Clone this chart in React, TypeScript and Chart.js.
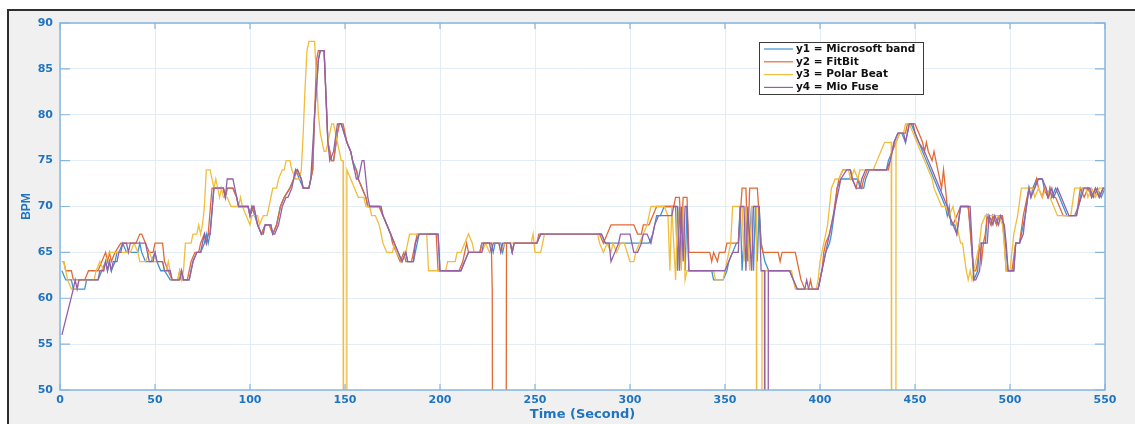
import React, { useEffect, useRef } from "react";
import { Chart, registerables } from "chart.js";

Chart.register(...registerables);

// ---- data: [time (s), BPM] breakpoints ----
const seriesLabels = ["y1 = Microsoft band", "y2 = FitBit", "y3 = Polar Beat", "y4 = Mio Fuse"];
const seriesColors = ["#3d93d2", "#e26a35", "#f1bd3c", "#9460a8"];

const microsoftBand: [number, number][] = [
  [1,63],[3,62],[6,62],[7,61],[13,61],[14,62],[20,62],[22,63],[24,64],[25,63],[26,64],[27,63],[29,64],[30,65],[31,65],[33,66],[35,65],[41,65],[42,66],[43,65],[45,64],[48,64],[50,65],[51,64],[53,63],[55,63],[58,62],[63,62],[64,63],[65,62],[68,62],[70,64],[72,65],[74,65],[76,66],[77,67],[78,66],[79,67],[81,72],[86,72],[87,71],[88,72],[91,72],[93,71],[94,70],[99,70],[100,69],[101,70],[104,68],[106,67],[108,68],[111,68],[112,67],[114,68],[116,70],[118,71],[121,72],[123,73],[124,74],[126,73],[128,72],[131,72],[133,74],[134,80],[136,86],[137,87],[139,87],[141,77],[143,75],[144,75],[146,78],[147,79],[148,79],[151,77],[153,76],[154,75],[156,74],[157,73],[159,72],[161,71],[162,70],[168,70],[170,69],[172,68],[174,67],[176,66],[178,65],[180,64],[182,65],[183,64],[186,64],[188,66],[189,67],[199,67],[200,63],[211,63],[213,64],[215,65],[221,65],[222,66],[227,66],[228,65],[229,66],[232,66],[233,65],[234,66],[237,66],[238,65],[239,66],[251,66],[253,67],[285,67],[287,66],[310,66],[312,67],[314,69],[316,69],[318,70],[324,70],[325,63],[326,70],[327,64],[328,70],[329,63],[330,70],[331,63],[343,63],[344,62],[349,62],[351,63],[352,64],[354,65],[356,66],[357,66],[358,70],[359,63],[361,70],[362,64],[364,70],[365,63],[366,70],[367,64],[368,70],[369,66],[371,64],[373,63],[384,63],[386,62],[388,61],[399,61],[400,62],[401,63],[403,65],[405,66],[406,67],[408,70],[409,72],[411,73],[420,73],[421,72],[423,72],[424,73],[426,74],[435,74],[436,75],[438,76],[439,77],[441,78],[443,78],[445,77],[446,78],[447,79],[448,79],[450,78],[452,77],[454,76],[456,75],[458,74],[460,73],[462,72],[464,71],[466,70],[467,69],[468,70],[469,68],[471,68],[472,67],[474,70],[478,70],[479,68],[481,62],[483,63],[484,66],[487,66],[488,69],[490,68],[491,69],[493,68],[494,69],[496,69],[497,67],[499,63],[502,63],[503,66],[505,66],[506,67],[508,69],[510,72],[511,71],[512,72],[514,73],[517,73],[518,72],[520,71],[521,72],[522,71],[524,72],[526,71],[528,70],[530,69],[534,69],[536,70],[538,72],[542,72],[544,71],[546,72],[548,71],[550,72]
];

const fitBit: [number, number][] = [
  [1,64],[2,64],[3,63],[6,63],[7,62],[13,62],[15,63],[20,63],[22,64],[24,65],[25,64],[26,65],[27,64],[29,65],[32,66],[40,66],[42,67],[43,67],[45,66],[47,65],[49,65],[50,66],[54,66],[55,64],[57,63],[59,62],[62,62],[63,63],[64,62],[67,62],[69,64],[71,65],[73,65],[74,66],[76,67],[77,66],[78,67],[80,72],[86,72],[87,71],[88,72],[91,72],[93,71],[94,70],[99,70],[100,69],[102,70],[104,68],[106,67],[108,68],[110,68],[112,67],[114,68],[116,70],[118,71],[121,72],[123,73],[125,74],[127,73],[128,72],[131,72],[133,74],[134,80],[135,86],[136,87],[139,87],[141,77],[143,75],[144,75],[146,78],[147,79],[149,79],[151,77],[153,76],[154,75],[155,74],[156,74],[157,73],[159,72],[161,71],[162,70],[168,70],[170,69],[172,68],[174,67],[175,66],[177,65],[179,64],[181,65],[182,64],[185,64],[187,66],[188,67],[198,67],[199,63],[210,63],[212,64],[213,65],[214,66],[215,65],[221,65],[222,66],[227,66],[227.5,61],[228,0],[234.5,0],[235,66],[237,66],[238,65],[239,66],[251,66],[252,67],[284,67],[286,66],[288,67],[290,68],[302,68],[304,67],[306,67],[307,68],[310,68],[312,69],[314,70],[323,70],[324,71],[326,71],[327,67],[328,71],[330,71],[331,65],[342,65],[343,64],[344,65],[346,64],[347,65],[350,65],[351,66],[357,66],[359,72],[361,72],[362,66],[363,72],[367,72],[369,66],[370,65],[378,65],[379,64],[380,65],[387,65],[388,64],[389,63],[390,62],[392,61],[394,61],[395,62],[396,61],[399,61],[400,62],[401,63],[402,65],[403,66],[405,67],[407,69],[409,72],[410,73],[412,74],[416,74],[417,73],[419,72],[420,73],[422,72],[423,73],[425,74],[436,74],[438,76],[440,77],[442,78],[445,78],[446,79],[450,79],[452,78],[454,77],[455,76],[456,77],[457,76],[459,75],[460,76],[462,74],[464,72],[465,74],[466,72],[467,70],[468,69],[470,68],[472,69],[474,70],[478,70],[480,65],[481,63],[482,63],[483,64],[484,66],[485,64],[486,66],[487,67],[488,69],[490,68],[491,69],[493,68],[494,69],[496,69],[497,66],[498,63],[501,63],[503,66],[505,66],[507,69],[509,71],[510,72],[513,72],[514,73],[515,72],[517,71],[518,72],[520,71],[521,72],[522,71],[524,71],[526,70],[528,69],[535,69],[537,72],[539,71],[541,72],[543,71],[545,72],[547,71],[549,72],[550,72]
];

const polarBeat: [number, number][] = [
  [1,64],[2,64],[3,63],[4,62],[6,61],[9,61],[10,62],[18,62],[19,63],[21,64],[23,63],[24,64],[26,65],[37,65],[39,66],[41,65],[42,64],[45,64],[47,65],[49,64],[54,64],[55,63],[56,63],[57,64],[58,63],[59,62],[62,62],[63,63],[64,62],[65,63],[66,66],[69,66],[70,67],[72,67],[73,68],[74,67],[75,68],[76,70],[77,74],[79,74],[81,72],[82,73],[83,72],[84,71],[85,72],[86,71],[88,71],[90,70],[94,70],[95,71],[96,70],[98,69],[100,68],[101,69],[104,69],[105,68],[107,69],[109,69],[110,70],[112,72],[114,72],[115,73],[117,74],[118,74],[119,75],[121,75],[122,74],[124,73],[126,73],[127,74],[128,78],[129,83],[130,87],[131,88],[134,88],[135,84],[136,80],[137,78],[139,76],[140,76],[141,77],[143,79],[144,79],[146,77],[147,76],[148,75],[149,75],[149.2,0],[150.8,0],[151,74],[153,73],[155,72],[157,71],[160,71],[161,70],[163,70],[164,69],[166,69],[168,68],[170,66],[172,65],[175,65],[176,66],[177,65],[180,64],[182,65],[184,67],[193,67],[194,63],[203,63],[204,64],[208,64],[209,65],[211,65],[213,66],[215,67],[217,66],[218,65],[222,65],[224,66],[226,65],[228,66],[231,66],[232,65],[234,66],[248,66],[249,67],[250,65],[253,65],[255,67],[283,67],[284,66],[286,65],[288,66],[290,65],[291,66],[293,65],[295,66],[297,66],[300,64],[302,64],[303,65],[305,66],[307,67],[309,68],[311,70],[318,70],[320,69],[321,63],[322,70],[324,62],[325,70],[327,63],[328,70],[329,62],[330,63],[344,63],[345,62],[349,62],[350,63],[352,65],[353,66],[354,70],[359,70],[360,64],[361,70],[363,63],[364,70],[366.5,70],[366.7,0],[369.3,0],[369.5,63],[385,63],[386,62],[387,61],[398,61],[399,62],[400,64],[401,65],[403,67],[404,68],[405,70],[406,72],[408,73],[410,73],[412,74],[415,74],[416,73],[418,74],[420,73],[421,74],[428,74],[430,75],[432,76],[434,77],[437.5,77],[437.7,0],[439.9,0],[440,77],[442,78],[444,78],[445,79],[447,79],[449,78],[451,77],[453,76],[455,75],[457,74],[459,73],[460,72],[462,71],[464,70],[466,70],[468,69],[470,70],[472,68],[474,66],[475,66],[477,63],[478,62],[479,63],[480,62],[482,64],[484,66],[485,68],[487,69],[494,69],[496,68],[497,66],[498,63],[500,63],[502,67],[504,69],[506,72],[512,72],[513,71],[515,72],[517,71],[519,72],[521,71],[523,70],[525,69],[532,69],[534,72],[540,72],[541,71],[543,72],[545,71],[547,72],[550,72]
];

const mioFuse: [number, number][] = [
  [1,56],[7,61],[8,62],[9,61],[10,62],[20,62],[21,63],[23,63],[24,64],[25,63],[26,64],[27,63],[28,64],[30,64],[31,65],[32,65],[33,66],[35,66],[36,65],[37,66],[45,66],[46,65],[47,64],[49,64],[50,65],[51,64],[54,64],[55,63],[58,63],[59,62],[63,62],[64,63],[65,62],[68,62],[70,64],[72,65],[74,65],[75,66],[76,67],[77,66],[78,67],[79,67],[81,72],[86,72],[87,71],[88,73],[91,73],[93,71],[94,70],[99,70],[100,69],[101,70],[102,70],[104,68],[106,67],[107,67],[108,68],[111,68],[112,67],[113,67],[115,68],[117,70],[119,71],[120,71],[122,72],[124,74],[125,74],[127,73],[128,72],[131,72],[132,73],[134,80],[136,86],[137,87],[139,87],[141,77],[142,75],[144,76],[146,79],[148,79],[151,77],[153,76],[155,74],[156,73],[157,73],[159,75],[160,75],[162,71],[163,70],[169,70],[170,69],[172,68],[174,67],[176,66],[178,65],[180,64],[182,65],[183,64],[186,64],[187,66],[189,67],[199,67],[200,63],[211,63],[213,64],[215,65],[222,65],[223,66],[226,66],[227,65],[228,66],[231,66],[232,65],[233,66],[237,66],[238,65],[239,66],[251,66],[253,67],[285,67],[287,66],[289,66],[290,64],[292,65],[294,66],[295,67],[300,67],[302,65],[304,65],[306,66],[307,67],[309,67],[311,66],[313,68],[315,69],[322,69],[323,70],[325,70],[326,63],[327,70],[328,64],[329,70],[330,70],[331,63],[350,63],[352,64],[354,65],[357,65],[358,70],[360,70],[361,63],[362,70],[364,63],[365,70],[368,70],[369,63],[370.8,63],[371,0],[372.6,0],[372.8,63],[384,63],[386,62],[388,61],[392,61],[393,62],[394,61],[399,61],[400,62],[401,63],[403,65],[404,66],[405,67],[407,69],[408,70],[410,72],[411,73],[414,74],[416,74],[417,73],[419,72],[421,72],[422,73],[424,74],[435,74],[437,75],[438,76],[439,77],[441,78],[444,78],[445,77],[446,78],[447,79],[449,79],[450,78],[452,77],[455,76],[457,75],[459,74],[461,73],[463,72],[465,71],[467,70],[468,69],[470,68],[472,67],[474,70],[479,70],[481,62],[482,62],[484,63],[485,66],[488,66],[489,69],[491,68],[492,69],[494,68],[495,69],[497,68],[498,66],[499,63],[502,63],[503,66],[505,66],[507,67],[508,69],[510,72],[511,71],[513,72],[515,73],[517,73],[519,72],[520,71],[522,72],[523,71],[525,72],[527,71],[529,70],[531,69],[535,69],[536,70],[539,72],[542,72],[543,71],[545,72],[547,71],[549,72],[550,72]
];

const seriesData = [microsoftBand, fitBit, polarBeat, mioFuse];

const xMin = 0, xMax = 550, xStep = 50;
const yMin = 50, yMax = 90, yStep = 5;
const xTitle = "Time (Second)";
const yTitle = "BPM";

const AXIS = "#86b6de";
const TICK_TEXT = "#1f74c2";
const GRID = "#e2edf7";

const matlabPlugin = {
  id: "matlabFrame",
  beforeDraw(chart: any) {
    const { ctx, chartArea } = chart;
    const { left, top, right, bottom } = chartArea;
    ctx.save();
    ctx.fillStyle = "#ffffff";
    ctx.fillRect(left, top, right - left, bottom - top);
    ctx.restore();
  },
  afterDatasetsDraw(chart: any) {
    const { ctx, chartArea, scales } = chart;
    const { left, top, right, bottom } = chartArea;
    ctx.save();
    ctx.strokeStyle = AXIS;
    ctx.lineWidth = 1.5;
    ctx.strokeRect(left, top, right - left, bottom - top);
    ctx.lineWidth = 1.2;
    ctx.beginPath();
    for (let v = xMin; v <= xMax; v += xStep) {
      const px = scales.x.getPixelForValue(v);
      ctx.moveTo(px, bottom); ctx.lineTo(px, bottom - 6);
      ctx.moveTo(px, top); ctx.lineTo(px, top + 6);
    }
    for (let v = yMin; v <= yMax; v += yStep) {
      const py = scales.y.getPixelForValue(v);
      ctx.moveTo(left, py); ctx.lineTo(left + 10, py);
      ctx.moveTo(right, py); ctx.lineTo(right - 10, py);
    }
    ctx.stroke();

    // legend
    const bx = 759, by = 42, bw = 164, bh = 52;
    ctx.fillStyle = "#ffffff";
    ctx.fillRect(bx, by, bw, bh);
    ctx.strokeStyle = "#3a3a3a";
    ctx.lineWidth = 1;
    ctx.strokeRect(bx + 0.5, by + 0.5, bw, bh);
    ctx.font = "bold 10.5px 'DejaVu Sans'";
    ctx.textBaseline = "middle";
    ctx.textAlign = "left";
    seriesLabels.forEach((lab, i) => {
      const ry = by + 7 + i * 12.8;
      ctx.strokeStyle = seriesColors[i];
      ctx.lineWidth = 1.2;
      ctx.beginPath();
      ctx.moveTo(bx + 5, ry);
      ctx.lineTo(bx + 34, ry);
      ctx.stroke();
      ctx.fillStyle = "#111111";
      ctx.fillText(lab, bx + 37, ry);
    });
    ctx.restore();
  },
};

export default function App() {
  const canvasRef = useRef<HTMLCanvasElement | null>(null);

  useEffect(() => {
    if (!canvasRef.current) return;
    const chart = new Chart(canvasRef.current, {
      type: "line",
      data: {
        datasets: seriesData.map((s, i) => ({
          label: seriesLabels[i],
          data: s.map(([x, y]) => ({ x, y })),
          borderColor: seriesColors[i],
          backgroundColor: seriesColors[i],
          borderWidth: 1.3,
          pointRadius: 0,
          tension: 0,
          fill: false,
          order: 3 - i,
        })),
      },
      options: {
        responsive: false,
        animation: false,
        devicePixelRatio: 1,
        layout: { padding: { top: 23, right: 30, left: 0, bottom: 0 } },
        plugins: { legend: { display: false }, tooltip: { enabled: false } },
        scales: {
          x: {
            type: "linear",
            min: xMin,
            max: xMax,
            afterFit: (scale: any) => { scale.height = 34; },
            ticks: {
              stepSize: xStep,
              color: TICK_TEXT,
              font: { family: "'DejaVu Sans'", weight: "bold", size: 11 },
              padding: 4,
              maxRotation: 0,
            },
            grid: { color: GRID, drawTicks: false, lineWidth: 1 },
            border: { display: false },
            title: {
              display: true,
              text: xTitle,
              color: TICK_TEXT,
              font: { family: "'DejaVu Sans'", weight: "bold", size: 13 },
              padding: { top: 0, bottom: 2 },
            },
          },
          y: {
            type: "linear",
            min: yMin,
            max: yMax,
            afterFit: (scale: any) => { scale.width = 60; },
            ticks: {
              stepSize: yStep,
              color: TICK_TEXT,
              font: { family: "'DejaVu Sans'", weight: "bold", size: 11 },
              padding: 7,
            },
            grid: { color: GRID, drawTicks: false, lineWidth: 1 },
            border: { display: false },
            title: {
              display: true,
              text: yTitle,
              color: TICK_TEXT,
              font: { family: "'Liberation Sans'", weight: "bold", size: 12 },
              padding: { top: 19, bottom: 0 },
            },
          },
        },
      },
      plugins: [matlabPlugin],
    });
    return () => chart.destroy();
  }, []);

  return (
    <div style={{ position: "absolute", left: 0, top: 0, width: 1135, height: 424, background: "#ffffff", overflow: "hidden" }}>
      <div
        style={{
          position: "absolute",
          left: 7,
          top: 9,
          width: 1135 - 7,
          height: 424 - 9,
          background: "#f0f0f0",
          borderTop: "2px solid #2e2e2e",
          borderLeft: "2px solid #2e2e2e",
          boxSizing: "border-box",
        }}
      />
      <canvas ref={canvasRef} width={1135} height={424} style={{ position: "absolute", left: 0, top: 0 }} />
    </div>
  );
}
